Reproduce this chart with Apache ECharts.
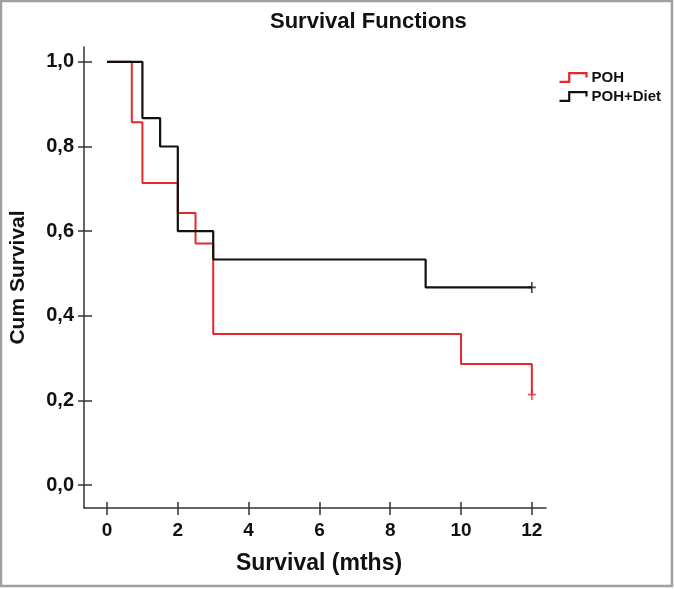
<!DOCTYPE html>
<html>
<head>
<meta charset="utf-8">
<script src="https://cdn.jsdelivr.net/npm/echarts@6/dist/echarts.min.js"></script>
<style>
  html, body { margin: 0; padding: 0; background: #fff; }
  #km-chart { width: 674px; height: 589px; }
</style>
</head>
<body>
<div id="km-chart"></div>
<script>
// Kaplan-Meier steps
const pohTimes = [0, 0.7, 1, 2, 2.5, 3, 10, 12];
const pohSurv = [1, 0.857, 0.714, 0.643, 0.571, 0.357, 0.286, 0.214];
const dietTimes = [0, 1, 1.5, 2, 3, 9, 12];
const dietSurv = [1, 0.867, 0.8, 0.6, 0.533, 0.467, 0.467];
// censored cases (+)
const pohCensor = [[12, 0.214]];
const dietCensor = [[12, 0.467]];

const xTicks = [0, 2, 4, 6, 8, 10, 12];
const yTicks = [0, 0.2, 0.4, 0.6, 0.8, 1.0];
const seriesNames = ['POH', 'POH+Diet'];

const RED = '#e8262b';
const BLACK = '#111111';
const FONT = '"Liberation Sans", Arial, sans-serif';

const zip = (xs, ys) => xs.map((x, i) => [x, ys[i]]);

const stepIcon = 'path://M0,9 L9,9 L9,1 L25,1 L25,5';
const plusIcon = 'path://M4,0 L6,0 L6,5 L10,5 L10,7 L6,7 L6,12 L4,12 L4,7 L0,7 L0,5 L4,5 Z';

const chart = echarts.init(document.getElementById('km-chart'));

const xBase = {
  type: 'value',
  min: -0.65,
  max: 12.4,
  splitLine: { show: false }
};
const yBase = {
  type: 'value',
  min: -0.054,
  max: 1.035,
  splitLine: { show: false }
};
const tickStyle = { color: '#333', width: 1.5 };

const option = {
  backgroundColor: '#fff',
  animation: false,
  title: {
    text: 'Survival Functions',
    left: 265,
    top: 6,
    textStyle: { fontFamily: FONT, fontWeight: 'bold', fontSize: 22, color: '#111' }
  },
  legend: {
    data: seriesNames.map((name, i) => ({
      name,
      icon: stepIcon,
      itemStyle: { color: 'none', borderColor: i ? BLACK : RED, borderWidth: 2.2 }
    })),
    orient: 'vertical',
    left: 557,
    top: 70,
    padding: 0,
    itemWidth: 27,
    itemHeight: 10,
    itemGap: 4,
    textStyle: { fontFamily: FONT, fontWeight: 'bold', fontSize: 15, color: '#111' }
  },
  grid: { left: 84, right: 128, top: 47, bottom: 81 },
  xAxis: [
    Object.assign({}, xBase, {
      position: 'bottom',
      name: 'Survival (mths)',
      nameLocation: 'middle',
      nameGap: 44,
      nameTextStyle: { fontFamily: FONT, fontWeight: 'bold', fontSize: 23, color: '#111', padding: [0, 0, 0, 8] },
      axisLine: { onZero: false, lineStyle: { color: '#333', width: 1.5 } },
      axisTick: { customValues: xTicks, length: 7, lineStyle: tickStyle },
      axisLabel: {
        customValues: xTicks,
        margin: 13,
        fontFamily: FONT, fontWeight: 'bold', fontSize: 19, color: '#111'
      }
    }),
    Object.assign({}, xBase, {
      position: 'bottom',
      axisLine: { show: false, onZero: false },
      axisTick: { customValues: xTicks, inside: true, length: 6, lineStyle: tickStyle },
      axisLabel: { show: false }
    })
  ],
  yAxis: [
    Object.assign({}, yBase, {
      position: 'left',
      name: 'Cum Survival',
      nameLocation: 'middle',
      nameGap: 55,
      nameTextStyle: { fontFamily: FONT, fontWeight: 'bold', fontSize: 21, color: '#111' },
      axisLine: { show: true, onZero: false, lineStyle: { color: '#333', width: 1.5 } },
      axisTick: { show: true, customValues: yTicks, length: 6, lineStyle: tickStyle },
      axisLabel: {
        customValues: yTicks,
        margin: 10,
        formatter: v => v.toFixed(1).replace('.', ','),
        fontFamily: FONT, fontWeight: 'bold', fontSize: 20, color: '#111'
      }
    }),
    Object.assign({}, yBase, {
      position: 'left',
      axisLine: { show: false, onZero: false },
      axisTick: { show: true, customValues: yTicks, inside: true, length: 8, lineStyle: tickStyle },
      axisLabel: { show: false }
    })
  ],
  series: [
    {
      name: 'POH',
      type: 'line',
      step: 'end',
      data: zip(pohTimes, pohSurv),
      showSymbol: false,
      lineStyle: { color: RED, width: 2 },
      itemStyle: { color: RED },
      z: 3
    },
    {
      name: 'POH+Diet',
      type: 'line',
      step: 'end',
      data: zip(dietTimes, dietSurv),
      showSymbol: false,
      lineStyle: { color: BLACK, width: 2.2 },
      itemStyle: { color: BLACK },
      z: 4
    },
    {
      name: 'POH censored',
      type: 'scatter',
      data: pohCensor,
      symbol: plusIcon,
      symbolSize: [8, 11],
      itemStyle: { color: RED },
      z: 5
    },
    {
      name: 'POH+Diet censored',
      type: 'scatter',
      data: dietCensor,
      symbol: plusIcon,
      symbolSize: [8, 11],
      itemStyle: { color: BLACK },
      z: 5
    }
  ],
  graphic: [
    {
      type: 'rect',
      shape: { x: 1, y: 1, width: 671, height: 585 },
      style: { fill: 'none', stroke: '#a0a0a0', lineWidth: 2.5 },
      silent: true
    }
  ]
};

chart.setOption(option);
</script>
</body>
</html>
